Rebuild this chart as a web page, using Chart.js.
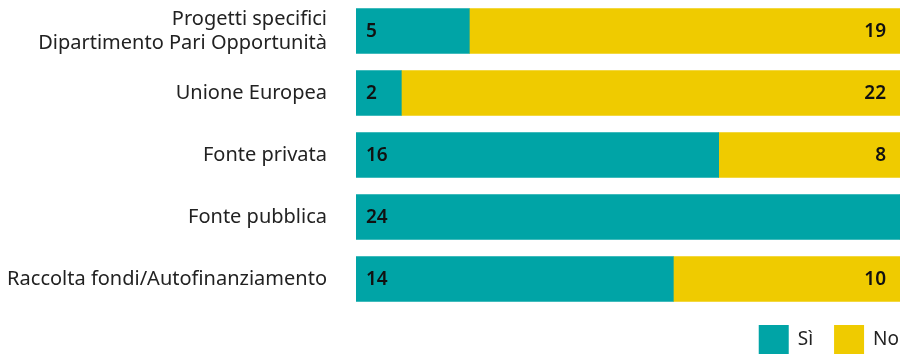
<!DOCTYPE html>
<html>
<head>
<meta charset="utf-8">
<script src="https://cdn.jsdelivr.net/npm/chart.js@4.4.1/dist/chart.umd.min.js"></script>
<style>
  html, body { margin: 0; padding: 0; background: #fff; }
  #wrap { width: 900px; height: 355px; position: relative; }
</style>
</head>
<body>
<div id="wrap"><canvas id="c"></canvas></div>
<script>
const categories = [
  ['Progetti specifici', 'Dipartimento Pari Opportunità'],
  'Unione Europea',
  'Fonte privata',
  'Fonte pubblica',
  'Raccolta fondi/Autofinanziamento'
];
const siValues = [5, 2, 16, 24, 14];
const noValues = [19, 22, 8, 0, 10];
const seriesNames = ['Sì', 'No'];

const TEAL = '#00a4a6';
const YELLOW = '#efcb00';
const FONT = "'Noto Sans', sans-serif";

// Writes each segment's value inside its bar: "Sì" at the start, "No" at the end.
const valueLabels = {
  id: 'valueLabels',
  afterDatasetsDraw(chart) {
    const ctx = chart.ctx;
    ctx.save();
    ctx.font = '600 19px ' + FONT;
    ctx.fillStyle = '#111';
    ctx.textBaseline = 'middle';
    chart.data.datasets.forEach((ds, di) => {
      const meta = chart.getDatasetMeta(di);
      meta.data.forEach((bar, i) => {
        const v = ds.data[i];
        if (!v) return;
        if (di === 0) {
          ctx.textAlign = 'left';
          ctx.fillText(String(v), bar.base + 10, bar.y + 1);
        } else {
          ctx.textAlign = 'right';
          ctx.fillText(String(v), bar.x - 14, bar.y + 1);
        }
      });
    });
    ctx.restore();
  }
};

// Legend row under the plot, right-aligned: coloured square then series name.
const bottomLegend = {
  id: 'bottomLegend',
  afterDraw(chart) {
    const ctx = chart.ctx;
    ctx.save();
    ctx.font = '19px ' + FONT;
    ctx.textBaseline = 'middle';
    ctx.textAlign = 'left';
    const boxW = 30, boxH = 29, gapText = 9, gapItem = 21;
    const top = 325, mid = top + boxH / 2;
    let right = 899;
    const items = chart.data.datasets.map(ds => ({ text: ds.label, color: ds.backgroundColor }));
    for (let i = items.length - 1; i >= 0; i--) {
      const it = items[i];
      const tw = ctx.measureText(it.text).width;
      const tx = right - tw;
      const bx = tx - gapText - boxW;
      ctx.fillStyle = it.color;
      ctx.fillRect(bx, top, boxW, boxH);
      ctx.fillStyle = '#222';
      ctx.fillText(it.text, tx, mid);
      right = bx - gapItem;
    }
    ctx.restore();
  }
};

new Chart(document.getElementById('c'), {
  type: 'bar',
  data: {
    labels: categories,
    datasets: [
      { label: seriesNames[0], data: siValues, backgroundColor: TEAL },
      { label: seriesNames[1], data: noValues, backgroundColor: YELLOW }
    ]
  },
  options: {
    indexAxis: 'y',
    responsive: true,
    maintainAspectRatio: false,
    animation: false,
    layout: { padding: { top: 0, right: 0, bottom: 45, left: 0 } },
    barThickness: 45,
    scales: {
      x: {
        stacked: true,
        min: 0,
        max: 24,
        display: false
      },
      y: {
        stacked: true,
        grid: { display: false },
        border: { display: false },
        ticks: {
          color: '#222',
          padding: 21,
          font: { family: FONT, size: 20, lineHeight: 1.2 }
        },
        afterFit(scale) {
          scale.width = 356;
          scale.paddingTop = 0;
          scale.paddingBottom = 0;
        }
      }
    },
    plugins: {
      legend: { display: false },
      tooltip: { enabled: false }
    }
  },
  plugins: [valueLabels, bottomLegend]
});
</script>
</body>
</html>
